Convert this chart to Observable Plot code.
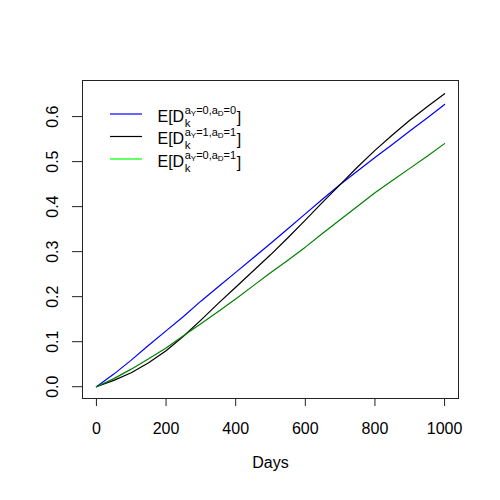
<!DOCTYPE html>
<html>
<head>
<meta charset="utf-8">
<script src="https://cdn.jsdelivr.net/npm/d3@7"></script>
<script src="https://cdn.jsdelivr.net/npm/@observablehq/plot@0.6"></script>
<style>
  html, body { margin: 0; padding: 0; background: #fff; }
  #chart svg { display: block; }
</style>
</head>
<body>
<div id="chart"></div>
<script>
// ---- data ----
const days = [0, 50, 100, 150, 200, 250, 300, 350, 400, 450, 500, 550, 600, 650, 700, 750, 800, 850, 900, 950, 1000];
const blueVals  = [0, 0.028, 0.059, 0.092, 0.124, 0.156, 0.190, 0.222, 0.254, 0.286, 0.318, 0.351, 0.384, 0.417, 0.449, 0.479, 0.509, 0.538, 0.568, 0.597, 0.627];
const blackVals = [0, 0.014, 0.031, 0.053, 0.080, 0.112, 0.148, 0.185, 0.221, 0.257, 0.293, 0.331, 0.370, 0.410, 0.449, 0.488, 0.525, 0.559, 0.592, 0.622, 0.651];
const greenVals = [0, 0.018, 0.039, 0.062, 0.086, 0.113, 0.140, 0.167, 0.195, 0.224, 0.253, 0.281, 0.310, 0.341, 0.371, 0.401, 0.431, 0.458, 0.485, 0.512, 0.540];

const seriesNames  = ["blue", "black", "green"];
const seriesColors = ["#0000FF", "#000000", "#00FF00"];
const legendAY = ["0", "1", "0"];
const legendAD = ["0", "1", "1"];

const xTicks = [0, 200, 400, 600, 800, 1000];
const yTicks = [0, 0.1, 0.2, 0.3, 0.4, 0.5, 0.6];
const yTickLabels = ["0.0", "0.1", "0.2", "0.3", "0.4", "0.5", "0.6"];
const xLabel = "Days";

// ---- build table ----
const valuesBySeries = [blueVals, blackVals, greenVals];
const rows = [];
seriesNames.forEach((s, i) => {
  days.forEach((d, j) => rows.push({series: s, day: d, value: valuesBySeries[i][j]}));
});

const FONT = "'Liberation Sans', Arial, Helvetica, sans-serif";
const FS = 16;

const chart = Plot.plot({
  width: 500,
  height: 500,
  marginLeft: 82,
  marginRight: 42,
  marginTop: 80,
  marginBottom: 102,
  style: {fontFamily: FONT, fontSize: FS + "px", background: "#fff", color: "#000", overflow: "visible"},
  x: {domain: [-40, 1040]},
  y: {domain: [-0.0262, 0.6802]},
  color: {domain: seriesNames, range: seriesColors},
  marks: [
    Plot.line(rows, {x: "day", y: "value", z: "series", stroke: "series", strokeWidth: 1.2}),
    Plot.frame({stroke: "#222", strokeWidth: 1}),
    Plot.axisX({ticks: xTicks, tickSize: 8, tickPadding: 16, tickFormat: d => String(d), label: null, fontSize: FS, stroke: "#222"}),
    Plot.axisY({ticks: yTicks, tickSize: 10, tickFormat: () => "", label: null, stroke: "#222"}),
    Plot.text(yTicks, {y: d => d, text: (d, i) => yTickLabels[i], frameAnchor: "left", dx: -30, rotate: -90, textAnchor: "middle", fontSize: FS, fill: "#000"}),
    Plot.text([xLabel], {text: d => d, frameAnchor: "bottom", dy: 69, textAnchor: "middle", fontSize: FS, fill: "#000"})
  ]
});

document.getElementById("chart").appendChild(chart);

// ---- text measuring via canvas ----
const ctx = document.createElement("canvas").getContext("2d");
function measure(str, size) {
  ctx.font = size + "px " + FONT;
  return ctx.measureText(str).width;
}

// ---- legend (drawn inside the plot's svg) ----
const svg = d3.select(chart);
const lg = svg.append("g")
  .attr("font-family", FONT)
  .attr("text-anchor", "start")
  .attr("fill", "#000");
const MAIN = 16, SUP = 11, SUB2 = 8;
seriesNames.forEach((s, i) => {
  const ly = 114 + i * 22.5;
  const base = ly + 7.5;
  lg.append("line")
    .attr("x1", 110).attr("x2", 142)
    .attr("y1", ly).attr("y2", ly)
    .attr("stroke", seriesColors[i]).attr("stroke-width", 1.2);
  const x0 = 157.5;
  lg.append("text").attr("x", x0).attr("y", base).attr("font-size", MAIN).text("E[D");
  const sx = x0 + measure("E[D", MAIN) + 0.5;
  const parts = [
    ["a", SUP, 0],
    ["Y", SUB2, 2],
    ["=" + legendAY[i] + ",a", SUP, 0],
    ["D", SUB2, 2],
    ["=" + legendAD[i], SUP, 0]
  ];
  let cx = sx;
  parts.forEach(([t, size, off]) => {
    lg.append("text").attr("x", cx).attr("y", base - 8 + off).attr("font-size", size).text(t);
    cx += measure(t, size);
  });
  lg.append("text").attr("x", sx).attr("y", base + 5).attr("font-size", 11.5).text("k");
  lg.append("text").attr("x", cx + 0.5).attr("y", base + 1).attr("font-size", MAIN).text("]");
});
</script>
</body>
</html>
